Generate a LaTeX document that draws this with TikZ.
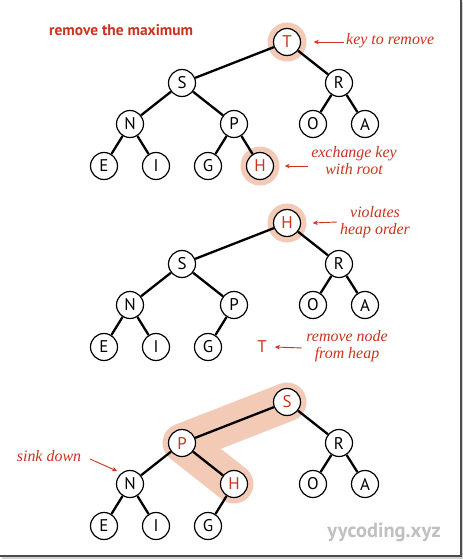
\documentclass[tikz,border=0pt]{standalone}
\usepackage{fontspec}
\setsansfont{PT Sans}
\setmainfont{Liberation Serif}
\usetikzlibrary{arrows.meta}
\definecolor{hred}{RGB}{200,52,30}
\definecolor{halo}{RGB}{242,202,182}
\definecolor{wm}{RGB}{192,192,192}
\tikzset{
  x=1bp, y=-1bp,
  key/.style={circle, draw, line width=1.2bp, minimum size=27bp, inner sep=0pt, fill=white, font=\sffamily\fontsize{17}{17}\selectfont},
  redkey/.style={key, text=hred},
  halonode/.style={circle, fill=halo, minimum size=39bp, inner sep=0pt},
  edge/.style={line width=2.3bp, black},
  note/.style={text=hred, font=\itshape\fontsize{16}{17}\selectfont, align=center, inner sep=0pt},
  arr/.style={hred, line width=0.9bp, -{Stealth[length=5bp,width=4.5bp]}},
}
\begin{document}
\begin{tikzpicture}
\useasboundingbox (0,0) rectangle (463,560);
\fill[white] (0,0) rectangle (463,560);
% frame
\draw[gray!35, line width=1.5bp] (463,2) -- (463,558) -- (2,558);
\draw[black!70, line width=1.5bp] (461,0) -- (461,556) -- (0,556);

% title
\node[anchor=west, text=hred, font=\sffamily\bfseries\fontsize{15.5}{16}\selectfont, inner sep=0pt] (title) at (49,30) {remove the maximum};

% ---------- tree 1 ----------
\node[halonode] (hT1) at (287,42) {};
\node[halonode] (hH1) at (260,166) {};
\node[redkey] (T1) at (287,42) {T};
\node[key] (S1) at (182,83) {S};
\node[key] (R1) at (339,83) {R};
\node[key] (N1) at (130,124) {N};
\node[key] (P1) at (234,124) {P};
\node[key] (O1) at (313,124) {O};
\node[key] (A1) at (365,124) {A};
\node[key] (E1) at (104,166) {E};
\node[key] (I1) at (156,166) {I};
\node[key] (G1) at (208,166) {G};
\node[redkey] (H1) at (260,166) {H};
\draw[edge] (T1) -- (S1) (T1) -- (R1) (S1) -- (N1) (S1) -- (P1) (R1) -- (O1) (R1) -- (A1)
  (N1) -- (E1) (N1) -- (I1) (P1) -- (G1) (P1) -- (H1);
\node[note, anchor=west] (k1) at (346,41) {key to remove};
\draw[arr] ([xshift=-2bp]k1.west |- hT1) -- ([xshift=7bp]hT1.east);
\node[note] (k2) at (354,161) {exchange key\\with root};
\draw[arr] ([xshift=-3bp]k2.west |- hH1) -- ([xshift=5bp]hH1.east);

% ---------- tree 2 ----------
\node[halonode] (hH2) at (287,223) {};
\node[redkey] (H2) at (287,223) {H};
\node[key] (S2) at (182,264) {S};
\node[key] (R2) at (339,264) {R};
\node[key] (N2) at (130,305) {N};
\node[key] (P2) at (234,305) {P};
\node[key] (O2) at (313,305) {O};
\node[key] (A2) at (365,305) {A};
\node[key] (E2) at (104,347) {E};
\node[key] (I2) at (156,347) {I};
\node[key] (G2) at (208,347) {G};
\draw[edge] (H2) -- (S2) (H2) -- (R2) (S2) -- (N2) (S2) -- (P2) (R2) -- (O2) (R2) -- (A2)
  (N2) -- (E2) (N2) -- (I2) (P2) -- (G2);
\node[note] (k3) at (375,222) {violates\\heap order};
\coordinate (k3a) at (337,222);
\draw[arr] (k3a) -- ([xshift=6bp]hH2.east);
\node[text=hred, font=\sffamily\fontsize{17}{17}\selectfont, inner sep=0pt] (T2) at (262,347) {T};
\node[note] (k4) at (347,346) {remove node\\from heap};
\coordinate (k4a) at (302,348);
\draw[arr] (k4a) -- ([xshift=8bp]T2.east);

% ---------- tree 3 ----------
\draw[halo, line width=39bp, line cap=round, line join=round] (287,402) -- (182,443) -- (234,484);
\node[redkey] (S3) at (287,402) {S};
\node[redkey] (P3) at (182,443) {P};
\node[key] (R3) at (339,443) {R};
\node[key] (N3) at (130,484) {N};
\node[redkey] (H3) at (234,484) {H};
\node[key] (O3) at (313,484) {O};
\node[key] (A3) at (365,484) {A};
\node[key] (E3) at (104,526) {E};
\node[key] (I3) at (156,526) {I};
\node[key] (G3) at (208,526) {G};
\draw[edge] (S3) -- (P3) (S3) -- (R3) (P3) -- (N3) (P3) -- (H3) (R3) -- (O3) (R3) -- (A3)
  (N3) -- (E3) (N3) -- (I3) (H3) -- (G3);
\node[note] (k5) at (49,456) {sink down};
\coordinate (k5a) at (90,459);
\draw[arr] (k5a) -- ([shift={(-3bp,3bp)}]N3.north west);

% watermark
\node[text=wm, font=\sffamily\bfseries\fontsize{20.5}{21}\selectfont, inner sep=0pt] (wmk) at (384,532) {yycoding.xyz};
\end{tikzpicture}
\end{document}
